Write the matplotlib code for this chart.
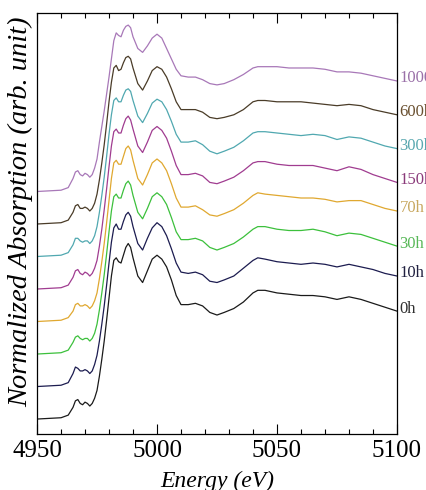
import matplotlib
matplotlib.use('Agg')
import matplotlib.pyplot as plt
from matplotlib.ticker import MultipleLocator

# energy grid (eV)
energy = [4950, 4960, 4963, 4965, 4966, 4967, 4968, 4969, 4970, 4971, 4972, 4973,
          4974, 4975, 4976, 4977, 4978, 4979, 4980, 4981, 4982, 4983, 4984, 4985,
          4986, 4987, 4988, 4989, 4990, 4992, 4994, 4996, 4998, 5000, 5002, 5004,
          5006, 5008, 5010, 5013, 5016, 5019, 5022, 5025, 5028, 5032, 5036, 5040,
          5042, 5045, 5050, 5055, 5060, 5065, 5070, 5075, 5080, 5085, 5090, 5095, 5100]

# normalized absorption (before stacking)
abs_0h = [0.00, 0.01, 0.03, 0.09, 0.14, 0.15, 0.12, 0.11, 0.13, 0.12, 0.10, 0.12,
          0.16, 0.22, 0.33, 0.46, 0.60, 0.76, 0.93, 1.10, 1.22, 1.24, 1.21, 1.20,
          1.26, 1.32, 1.35, 1.32, 1.24, 1.10, 1.05, 1.14, 1.23, 1.26, 1.23, 1.17,
          1.07, 0.95, 0.88, 0.88, 0.89, 0.87, 0.82, 0.80, 0.82, 0.85, 0.90, 0.97,
          0.99, 0.99, 0.97, 0.96, 0.95, 0.95, 0.94, 0.92, 0.94, 0.92, 0.89, 0.86, 0.83]
abs_10h = [0.00, 0.01, 0.03, 0.10, 0.15, 0.14, 0.12, 0.12, 0.13, 0.12, 0.10, 0.12,
           0.17, 0.24, 0.35, 0.48, 0.62, 0.78, 0.95, 1.11, 1.22, 1.25, 1.21, 1.21,
           1.27, 1.32, 1.34, 1.31, 1.23, 1.10, 1.05, 1.14, 1.22, 1.26, 1.23, 1.16,
           1.06, 0.95, 0.88, 0.87, 0.88, 0.86, 0.81, 0.80, 0.82, 0.85, 0.91, 0.97,
           0.99, 0.98, 0.96, 0.95, 0.94, 0.95, 0.94, 0.92, 0.94, 0.92, 0.90, 0.87, 0.85]
abs_30h = [0.00, 0.01, 0.03, 0.09, 0.13, 0.14, 0.12, 0.11, 0.12, 0.12, 0.10, 0.12,
           0.16, 0.23, 0.34, 0.47, 0.61, 0.77, 0.94, 1.10, 1.21, 1.23, 1.20, 1.20,
           1.26, 1.31, 1.33, 1.30, 1.22, 1.09, 1.04, 1.12, 1.21, 1.24, 1.21, 1.15,
           1.05, 0.94, 0.88, 0.88, 0.89, 0.87, 0.82, 0.80, 0.82, 0.85, 0.90, 0.96,
           0.98, 0.98, 0.96, 0.95, 0.95, 0.96, 0.94, 0.91, 0.93, 0.92, 0.89, 0.86, 0.83]
abs_70h = [0.00, 0.01, 0.03, 0.08, 0.13, 0.14, 0.12, 0.12, 0.13, 0.12, 0.10, 0.12,
           0.16, 0.22, 0.33, 0.46, 0.60, 0.76, 0.93, 1.10, 1.22, 1.24, 1.21, 1.21,
           1.27, 1.33, 1.35, 1.32, 1.24, 1.10, 1.05, 1.13, 1.22, 1.25, 1.22, 1.16,
           1.06, 0.95, 0.88, 0.88, 0.89, 0.86, 0.82, 0.81, 0.83, 0.86, 0.91, 0.97,
           0.99, 0.98, 0.97, 0.96, 0.95, 0.95, 0.94, 0.92, 0.93, 0.93, 0.90, 0.87, 0.85]
abs_150h = [0.00, 0.01, 0.03, 0.09, 0.14, 0.15, 0.12, 0.11, 0.13, 0.12, 0.10, 0.12,
            0.16, 0.22, 0.33, 0.46, 0.61, 0.77, 0.94, 1.10, 1.21, 1.23, 1.20, 1.20,
            1.26, 1.31, 1.33, 1.30, 1.23, 1.10, 1.05, 1.13, 1.22, 1.25, 1.22, 1.16,
            1.06, 0.95, 0.88, 0.88, 0.89, 0.87, 0.82, 0.81, 0.83, 0.86, 0.91, 0.97,
            0.98, 0.98, 0.96, 0.95, 0.95, 0.95, 0.93, 0.91, 0.94, 0.92, 0.88, 0.85, 0.82]
abs_300h = [0.00, 0.01, 0.03, 0.09, 0.14, 0.14, 0.12, 0.11, 0.12, 0.12, 0.10, 0.12,
            0.16, 0.23, 0.34, 0.47, 0.61, 0.77, 0.94, 1.09, 1.20, 1.22, 1.19, 1.19,
            1.24, 1.28, 1.29, 1.27, 1.20, 1.08, 1.03, 1.10, 1.18, 1.21, 1.19, 1.13,
            1.04, 0.94, 0.88, 0.88, 0.89, 0.86, 0.81, 0.79, 0.81, 0.84, 0.89, 0.95,
            0.96, 0.96, 0.95, 0.94, 0.93, 0.94, 0.93, 0.90, 0.92, 0.91, 0.88, 0.85, 0.83]
abs_600h = [0.00, 0.01, 0.03, 0.09, 0.14, 0.15, 0.12, 0.12, 0.13, 0.12, 0.10, 0.12,
            0.16, 0.23, 0.34, 0.47, 0.61, 0.77, 0.94, 1.09, 1.20, 1.22, 1.18, 1.19,
            1.24, 1.28, 1.29, 1.27, 1.20, 1.08, 1.03, 1.10, 1.18, 1.21, 1.19, 1.13,
            1.04, 0.94, 0.88, 0.88, 0.88, 0.86, 0.82, 0.81, 0.82, 0.84, 0.88, 0.94,
            0.95, 0.95, 0.94, 0.94, 0.94, 0.93, 0.92, 0.91, 0.92, 0.91, 0.88, 0.86, 0.84]
abs_1000h = [0.00, 0.01, 0.03, 0.10, 0.15, 0.16, 0.13, 0.12, 0.14, 0.13, 0.11, 0.13,
             0.18, 0.25, 0.38, 0.50, 0.62, 0.75, 0.88, 1.02, 1.16, 1.22, 1.20, 1.19,
             1.24, 1.27, 1.28, 1.26, 1.19, 1.10, 1.07, 1.12, 1.18, 1.21, 1.18, 1.10,
             1.02, 0.94, 0.89, 0.88, 0.88, 0.86, 0.83, 0.82, 0.83, 0.86, 0.90, 0.95,
             0.96, 0.96, 0.96, 0.95, 0.95, 0.95, 0.94, 0.92, 0.92, 0.91, 0.89, 0.87, 0.85]

labels = ['0h', '10h', '30h', '70h', '150h', '300h', '600h', '1000h']
spectra = [abs_0h, abs_10h, abs_30h, abs_70h, abs_150h, abs_300h, abs_600h, abs_1000h]
line_colors = ['#1a1a1a', '#1c1c50', '#3cc03c', '#e0a830',
               '#a03c90', '#50a8b0', '#4a3c28', '#a878b8']
text_colors = ['#303030', '#202040', '#58b858', '#c8a860',
               '#8a3a7a', '#5aa8b0', '#6a5030', '#9a70a8']
step = 0.25  # vertical stacking offset

plt.rcParams['font.family'] = ['Liberation Serif', 'DejaVu Serif']

fig = plt.figure(figsize=(4.27, 4.90), dpi=100)
ax = fig.add_axes([0.0867, 0.1143, 0.843, 0.8592])

for i in range(len(spectra)):
    ys = [v + i * step for v in spectra[i]]
    ax.plot(energy, ys, color=line_colors[i], lw=0.9)
    ax.text(5101.0, ys[-1] + 0.02, labels[i], color=text_colors[i],
            fontsize=12, ha='left', va='center', clip_on=False)

ax.set_xlim(4950, 5100)
ax.set_ylim(-0.115, 3.123)
ax.set_xticks([4950, 5000, 5050, 5100])
ax.xaxis.set_minor_locator(MultipleLocator(10))
ax.set_yticks([])
ax.tick_params(axis='x', which='both', direction='in', top=True, labelsize=18, pad=4)
ax.tick_params(axis='x', which='major', length=7, width=0.8)
ax.tick_params(axis='x', which='minor', length=3.5, width=0.8)
for s in ax.spines.values():
    s.set_linewidth(0.9)

fig.text(0.51, 0.006, 'Energy (eV)', fontsize=17, style='italic',
         ha='center', va='baseline')
fig.text(0.049, 0.567, 'Normalized Absorption (arb. unit)', fontsize=20.5,
         style='italic', rotation=90, ha='center', va='center')

fig.savefig('out.png', dpi=100)
